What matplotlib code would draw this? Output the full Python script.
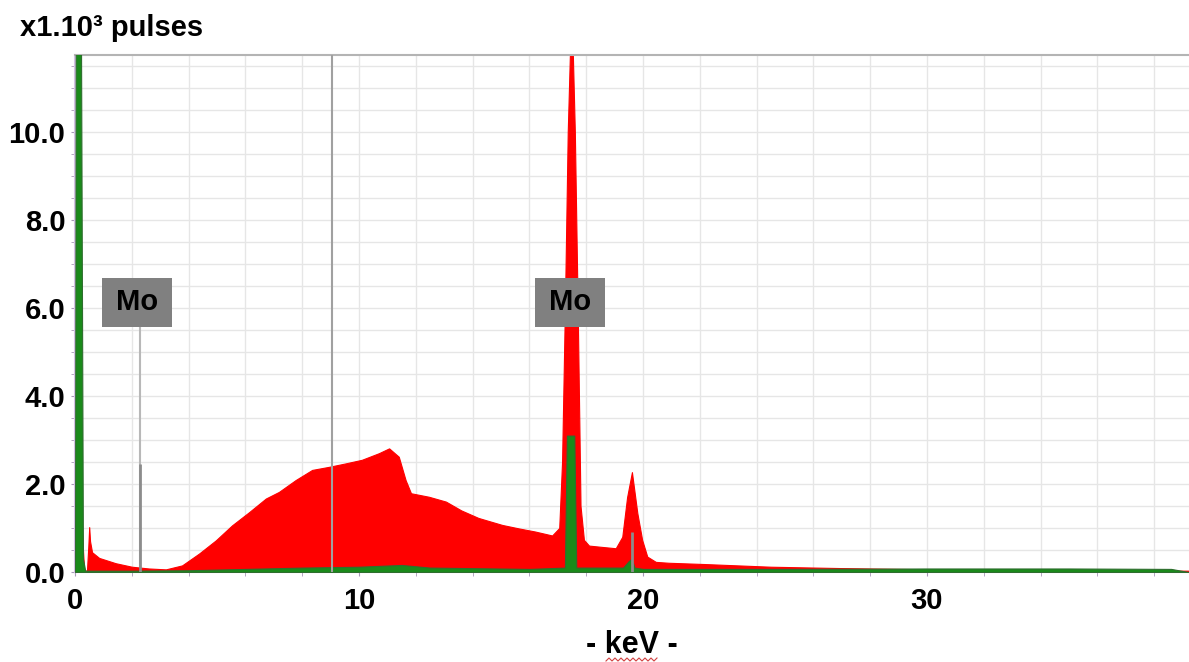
import numpy as np
import matplotlib
matplotlib.use('Agg')
import matplotlib.pyplot as plt
import matplotlib.patches as patches
from matplotlib.lines import Line2D

plt.rcParams['font.family'] = ['Liberation Sans', 'DejaVu Sans']
plt.rcParams['font.weight'] = 'bold'

# red spectrum (keV, x1000 pulses)
red_kev = [0.0, 0.03, 0.08, 0.14, 0.25, 0.32, 0.42, 0.47, 0.5, 0.53, 0.6, 0.85, 1.43, 2.0, 2.6, 3.2,
           3.77, 4.37, 4.96, 5.53, 6.13, 6.72, 7.18, 7.77, 8.35, 8.94, 9.54, 10.1, 10.7, 11.06,
           11.4, 11.64, 11.83, 12.46, 13.06, 13.6, 14.2, 14.46, 15.04, 15.63, 16.2, 16.8, 17.05,
           17.15, 17.25, 17.35, 17.48, 17.6, 17.7, 17.8, 17.92, 18.1, 18.56, 19.04, 19.27, 19.44,
           19.61, 19.8, 19.97, 20.15, 20.45, 20.9, 22.2, 24.5, 26.9, 29.0, 32.0, 35.0, 39.2]
red_val = [1.3, 1.34, 1.1, 0.89, 0.85, 0.05, 0.02, 0.6, 1.02, 0.7, 0.45, 0.32, 0.2, 0.12, 0.08, 0.06,
           0.15, 0.42, 0.72, 1.06, 1.36, 1.67, 1.82, 2.09, 2.32, 2.39, 2.47, 2.55, 2.7, 2.81,
           2.62, 2.09, 1.79, 1.71, 1.6, 1.4, 1.23, 1.18, 1.07, 0.99, 0.92, 0.83, 1.0,
           2.5, 6.0, 10.0, 13.0, 10.0, 6.0, 1.5, 0.73, 0.6, 0.57, 0.54, 0.8, 1.7,
           2.27, 1.34, 0.73, 0.35, 0.23, 0.21, 0.18, 0.12, 0.09, 0.07, 0.05, 0.04, 0.03]

# green spectrum
green_kev = [0.0, 0.03, 0.2, 0.28, 0.36, 2.0, 4.0, 6.0, 8.0, 10.0, 11.5, 12.5, 16.0, 17.25, 17.32,
             17.58, 17.65, 19.3, 19.5, 19.6, 19.7, 20.0, 25.0, 30.0, 35.0, 38.6, 39.2]
green_val = [0.0, 14.0, 14.0, 0.3, 0.03, 0.03, 0.04, 0.07, 0.1, 0.12, 0.16, 0.1, 0.07, 0.1, 3.1,
             3.1, 0.1, 0.1, 0.25, 0.3, 0.1, 0.07, 0.07, 0.08, 0.08, 0.07, 0.0]

# grey lines and labels
mo_lines = [2.29, 17.48]
mo_labels = ['Mo', 'Mo']
grey_peak_kev = [2.29, 19.61]
grey_peak_val = [2.45, 0.9]
marker_kev = 9.06

fig = plt.figure(figsize=(11.89, 6.62), dpi=100)
ax = fig.add_axes([75/1189, (662-572)/662, (1189-75)/1189, (572-55)/662])
ax.set_xlim(0, (1189-75)/28.4)
ax.set_ylim(0, (572-55)/44.0)

ax.set_xticks([0, 10, 20, 30])
ax.set_xticks(np.arange(0, 40, 2), minor=True)
ax.set_yticks(np.arange(0, 11, 2))
ax.set_yticks(np.arange(0, 11.8, 0.5), minor=True)
ax.set_yticklabels(['%.1f' % v for v in np.arange(0, 11, 2)])
ax.grid(True, which='both', color='#e6e6e6', linewidth=1)
ax.set_axisbelow(True)

ax.tick_params(axis='both', which='both', labelsize=21, length=3, color='#a898b8')
ax.tick_params(axis='x', pad=8)
ax.tick_params(axis='y', pad=4)
for lab in ax.get_xticklabels() + ax.get_yticklabels():
    lab.set_fontweight('bold')

ax.spines['right'].set_visible(False)
ax.spines['left'].set_color('#d4c0e4')
ax.spines['left'].set_linewidth(1.5)
ax.spines['top'].set_color('#b4b4b4')
ax.spines['top'].set_linewidth(1.5)
ax.spines['bottom'].set_color('#c8c8c8')

ax.fill_between(red_kev, red_val, color='#ff0000', linewidth=0.8, zorder=2)
ax.fill_between(green_kev, green_val, color='#1a8a1a', edgecolor='#2e6e2e', linewidth=0.8, zorder=3)

# marker line and grey peaks
ax.axvline(marker_kev, color='#a0a0a0', linewidth=1.5, zorder=4)
ax.vlines(grey_peak_kev, 0, grey_peak_val, color='#8c8c8c', linewidth=2, zorder=4)

box_w = 70/28.4
box_h = 49/44.0
box_y = (572-327)/44.0
box_cx = [2.2, 17.43]
for cx, line_x, lab in zip(box_cx, mo_lines, mo_labels):
    ax.vlines(line_x, 0, box_y, color='#b8b8b8', linewidth=1.5, zorder=1.5)
    rect = patches.Rectangle((cx - box_w/2, box_y), box_w, box_h, facecolor='#808080',
                             edgecolor='none', zorder=6)
    ax.add_patch(rect)
    ax.text(cx, box_y + box_h/2, lab, ha='center', va='center', fontsize=21,
            fontweight='bold', color='black', zorder=7)

fig.text(20/1189, 1 - 28/662, 'x1.10³ pulses', fontsize=21, fontweight='bold', va='center', ha='left')
fig.text(632/1189, 1 - 645/662, '- keV -', fontsize=22, fontweight='bold', va='center', ha='center')

# spell-check squiggle under keV
sx = np.arange(606, 658, 3)
sy = np.where(np.arange(len(sx)) % 2 == 0, 661, 658)
fig.add_artist(Line2D(sx/1189, 1 - sy/662, color='#d04040', linewidth=0.8, transform=fig.transFigure))

fig.savefig('out.png', dpi=100)
